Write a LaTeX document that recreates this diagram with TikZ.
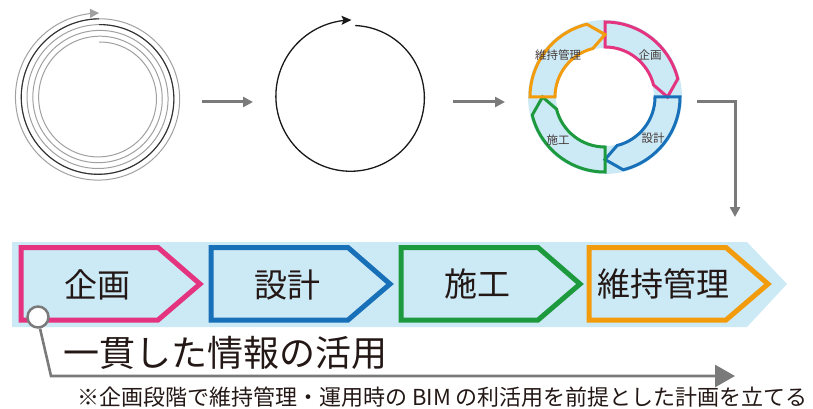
\documentclass[tikz,border=0pt]{standalone}
\usepackage{fontspec}
\setmainfont{Noto Sans CJK JP}
\newfontfamily\jpfont{Noto Sans CJK JP}
\usetikzlibrary{arrows.meta}
\definecolor{cpink}{HTML}{E4337F}
\definecolor{cblue}{HTML}{1770B8}
\definecolor{cgreen}{HTML}{1D9A3D}
\definecolor{corange}{HTML}{F29B0C}
\definecolor{clight}{HTML}{CCE9F6}
\definecolor{cgray}{HTML}{7A7A7A}
\definecolor{cspiral}{HTML}{A0A0A0}
\definecolor{ctext}{HTML}{231815}
\tikzset{
  conn/.style={draw=cgray, line width=3pt, -{Triangle[length=10pt,width=10pt]}},
  bigconn/.style={draw=cgray, line width=2.6pt, -{Triangle[length=20pt,width=22pt]}},
  band/.style={line width=3pt, line join=miter},
  stagebox/.style={line width=5pt, line join=miter},
  ringlabel/.style={font=\jpfont\fontsize{11.5}{12}\selectfont, text=ctext!85, inner sep=0pt},
  stagelabel/.style={font=\jpfont\fontsize{33}{35}\selectfont, text=ctext, inner sep=0pt},
}
\begin{document}
\begin{tikzpicture}[x=1pt,y=-1pt]
\useasboundingbox (0,0) rectangle (813,409);

% ---- spiral ----
\draw[cspiral, line width=1pt, -{Triangle[length=9pt,width=9pt]}]
  plot[domain=0:1800, samples=361, smooth] ({99+(56+29*(\x/1800))*sin(\x)},{98-(56+29*(\x/1800))*cos(\x)});
\draw[black!80, line width=1.1pt]
  plot[domain=1080:1440, samples=91, smooth] ({99+(56+29*(\x/1800))*sin(\x)},{98-(56+29*(\x/1800))*cos(\x)});
\coordinate (spiral) at (99,98);

% arrow 1
\coordinate (a1s) at (202,102);
\coordinate (a1e) at (253,102);
\draw[conn] (a1s) -- (a1e);

% ---- open circle ----
\draw[black!90, line width=1.3pt, -{Stealth[length=10pt,width=9pt,inset=2pt]}]
  plot[domain=3:360, samples=120, smooth] ({351.5+(71.5+5.5*(\x/360))*sin(\x)},{97-(71.5+5.5*(\x/360))*cos(\x)});
\coordinate (loop) at (351.5,97);

% arrow 2
\coordinate (a2s) at (453,102);
\coordinate (a2e) at (505,102);
\draw[conn] (a2s) -- (a2e);

% ---- cycle ring ----
\begin{scope}[shift={(605,97)}, yscale=-1]
  \fill[clight, even odd rule] (0,0) circle (77) (0,0) circle (49);
  \foreach \a/\c in {90/cpink, 0/cblue, -90/cgreen, 180/corange}{
    \draw[band, draw=\c]
      (\a:50) -- (\a:75) arc[start angle=\a, end angle=\a-76, radius=75]
      -- (\a-90:62.5) -- (\a-76:50) arc[start angle=\a-76, end angle=\a, radius=50] -- cycle;
  }
\end{scope}
\node[ringlabel] (rk) at (650,55) {企画};
\node[ringlabel] (rs) at (653,138) {設計};
\node[ringlabel] (rse) at (558,140) {施工};
\node[ringlabel] (rm) at (558,55) {維持管理};

% elbow arrow
\coordinate (e1) at (697,102);
\coordinate (e2) at (735,217);
\draw[conn, line join=miter] (e1) -| (e2);

% ---- bottom band ----
\fill[clight] (12,242) -- (747,242) -- (787,284) -- (747,327) -- (12,327) -- cycle;
\foreach \x/\c in {21/cpink, 211/cblue, 401/cgreen, 589/corange}{
  \draw[stagebox, draw=\c] (\x,247.5) -- (\x+137,247.5) -- (\x+179,284) -- (\x+137,320) -- (\x,320) -- cycle;
}
\node[stagelabel] (kikaku) at (97,285) {企画};
\node[stagelabel] (sekkei) at (287,285) {設計};
\node[stagelabel] (seko) at (477,284) {施工};
\node[stagelabel] (iji) at (663,284) {維持管理};

% info line
\node[circle, draw=cgray, fill=white, line width=2.5pt, minimum size=21pt, inner sep=0pt] (dot) at (38,317) {};
\coordinate (bend) at (51,376);
\coordinate (bend2) at (735,376);
\draw[bigconn] (dot.-80) -- (bend) -- (bend2);

\node[anchor=west, font=\jpfont\fontsize{36}{38}\selectfont, text=ctext, inner sep=0pt] (info) at (63,353) {一貫した情報の活用};
\node[anchor=west, font=\jpfont\fontsize{22}{24}\selectfont, text=ctext, inner sep=0pt] (note) at (77,397) {※企画段階で維持管理・運用時の BIM の利活用を前提とした計画を立てる};
\end{tikzpicture}
\end{document}
